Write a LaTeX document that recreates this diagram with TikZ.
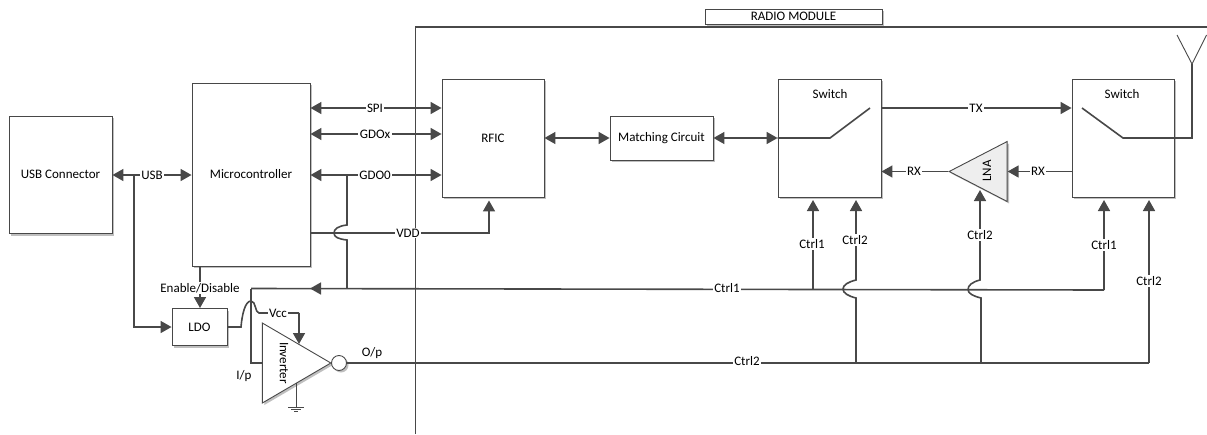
\documentclass[tikz,border=0pt]{standalone}
\usepackage{fontspec}
\usetikzlibrary{arrows.meta, positioning, shapes.geometric, shadows}
\setmainfont{Carlito}
\definecolor{WireGray}{RGB}{72, 72, 72}
\definecolor{LnaFill}{RGB}{238, 238, 238}

\begin{document}
\begin{tikzpicture}[
    x=1pt, y=-1pt,
    font=\fontsize{13}{15}\selectfont,
    softshadow/.style={drop shadow={shadow xshift=2pt, shadow yshift=-2pt, opacity=0.25, fill=black}},
    block/.style={rectangle, draw=WireGray, line width=0.9pt, fill=white, inner sep=0pt, softshadow},
    wire/.style={draw=WireGray, line width=1.6pt},
    feed/.style={wire, -{Triangle[length=11pt, width=12pt]}},
    both/.style={wire, {Triangle[length=11pt, width=12pt]}-{Triangle[length=11pt, width=12pt]}},
    fine/.style={draw=WireGray, line width=0.9pt},
    sig/.style={fill=white, inner xsep=1.5pt, inner ysep=1pt},
    tag/.style={inner sep=0pt}
]
\useasboundingbox (0,0) rectangle (1207,434);

% Radio module frame
\coordinate (frametop) at (415.5,27);
\coordinate (framebottom) at (415.5,434);
\coordinate (frameright) at (1207,27);
\draw[wire] (framebottom) -- (frametop) -- (frameright);
\node[block, minimum width=177pt, minimum height=15pt] (radio) at (793.5,16.5) {RADIO MODULE};

% Blocks
\node[block, minimum width=103pt, minimum height=117.5pt] (usb) at (60.5,174.75) {USB Connector};
\node[block, minimum width=118pt, minimum height=183pt] (mcu) at (251,174.5) {Microcontroller};
\node[block, minimum width=55pt, minimum height=37pt] (ldo) at (199.5,327) {LDO};
\node[block, minimum width=102pt, minimum height=118pt] (rfic) at (493,138) {RFIC};
\node[block, minimum width=103pt, minimum height=44pt] (matching) at (661.5,138) {Matching Circuit};
\node[block, minimum width=103pt, minimum height=118pt] (switcha) at (829.5,138) {};
\node[block, minimum width=102pt, minimum height=118pt] (switchb) at (1123,138) {};
\node[tag] (switchatext) at (830,94) {Switch};
\node[tag] (switchbtext) at (1122,94) {Switch};

% Triangles
\node[isosceles triangle, isosceles triangle stretches, shape border rotate=180, anchor=apex, draw=WireGray, line width=0.9pt,
    fill=LnaFill, inner sep=0pt, minimum width=60pt, minimum height=58pt, softshadow] (lna) at (948,171.5) {};
\node[tag, rotate=90] (lnatext) at (987,171) {LNA};
\node[isosceles triangle, isosceles triangle stretches, anchor=apex, draw=WireGray, line width=0.9pt,
    fill=white, inner sep=0pt, minimum width=80pt, minimum height=68.5pt, softshadow] (inverter) at (332,363) {};
\node[tag, rotate=-90] (invertertext) at (284,363) {Inverter};
\node[circle, draw=WireGray, line width=0.9pt, fill=white, inner sep=0pt, minimum size=15pt, softshadow] (bubble) at (339,363) {};

% Left side links
\coordinate (usbtap) at (134,175);
\draw[both] (usb.east |- usbtap) -- (mcu.west |- usbtap);
\node[sig] (usbtext) at (152,175) {USB};
\draw[feed] (usbtap) |- (ldo.west);
\coordinate (enabletop) at (200,266);
\coordinate (enablebottom) at (200,308);
\draw[feed] (enabletop) -- (enablebottom);
\node[sig] (enabletext) at (200,288) {Enable/Disable};

% Microcontroller to RFIC
\coordinate (spirow) at (0,108);
\coordinate (gdoxrow) at (0,134);
\coordinate (gdozrow) at (0,175);
\draw[both] (mcu.east |- spirow) -- (rfic.west |- spirow);
\draw[both] (mcu.east |- gdoxrow) -- (rfic.west |- gdoxrow);
\draw[both] (mcu.east |- gdozrow) -- (rfic.west |- gdozrow);
\node[sig] (spitext) at (375,108) {SPI};
\node[sig] (gdoxtext) at (375,134) {GDOx};
\node[sig] (gdoztext) at (375,175) {GDO0};
\coordinate (vddcorner) at (489,233);
\draw[feed, shorten >=3pt] (mcu.east |- vddcorner) -- (vddcorner) -- (rfic.south -| vddcorner);
\node[sig] (vddtext) at (408,233) {VDD};

% GDO0 tap onto Ctrl1, hopping over VDD
\coordinate (gdotap) at (347,175);
\coordinate (gdodown) at (347,288.5);
\draw[wire] (gdotap) -- (347,225) .. controls +(-9,1) and +(0,-4) .. (334,233)
    .. controls +(0,4) and +(-9,-1) .. (347,240) -- (gdodown);

% RF path
\draw[both] (rfic) -- (matching);
\draw[both] (matching) -- (switcha.west);
\draw[wire] (switcha.west) -- (830,138) -- (870,108);
\draw[feed] (switcha.east |- 0,108) -- (switchb.west |- 0,108);
\node[sig] (txtext) at (976,108) {TX};
\coordinate (antenna) at (1192,64);
\draw[wire] (1082,108) -- (1123,138) -- (1192,138) -- (antenna);
\draw[fine] (1177,35) -- (antenna) -- (1206.5,35);
\draw[feed] (switchb.west |- lna.apex) -- (lna.lower side);
\draw[feed] (lna.apex) -- (switcha.east |- lna.apex);
\node[sig] (rxbtext) at (1038,171.5) {RX};
\node[sig] (rxatext) at (914,171.5) {RX};

% Ctrl1 bus
\coordinate (busturn) at (251,288.5);
\coordinate (busend) at (1104,290);
\coordinate (ctrlone) at (813,288.5);
\draw[wire] (busend) -- (busturn);
\draw[feed] (gdodown) -- (310,288.5);
\node[sig] (busonetext) at (727,288.5) {Ctrl1};
\draw[wire] (busturn) |- (inverter.lower side);
\draw[feed] (ctrlone) -- (813,200);
\node[sig] (ctrlatext) at (812,244) {Ctrl1};
\draw[feed] (busend) -- (1104,200);
\node[sig] (ctrlctext) at (1104,245) {Ctrl1};

% Ctrl2 bus
\coordinate (bustwoend) at (1149,363);
\draw[wire] (bubble.east) -- (bustwoend);
\node[sig] (bustwotext) at (747,361.5) {Ctrl2};
\draw[feed] (bustwoend) -- (1149,200);
\node[sig] (ctrldtext) at (1149,281) {Ctrl2};
\draw[feed] (856,363) -- (856,298) .. controls +(-8,-2) and +(0,4) .. (843,289)
    .. controls +(0,-4) and +(-8,2) .. (856,280) -- (856,200);
\node[sig] (ctrlbtext) at (855,240) {Ctrl2};
\draw[feed] (981,363) -- (981,298) .. controls +(-8,-2) and +(0,4) .. (968,289.5)
    .. controls +(0,-4) and +(-8,2) .. (980,280) -- (980,190);
\node[sig] (lnactrltext) at (980,235) {Ctrl2};

% LDO output to inverter supply
\coordinate (vcccorner) at (299,313);
\draw[wire] (ldo.east) -- (241,327) .. controls +(1,-12) and +(-6,0) .. (251,301)
    .. controls +(5,0) and +(-4,0) .. (259,313) -- (vcccorner);
\draw[feed] (vcccorner) -- (299,344);
\node[sig] (vcctext) at (278,313) {Vcc};

% Ground
\coordinate (gndtop) at (296,383);
\coordinate (gndbottom) at (296,407);
\draw[fine] (gndtop) -- (gndbottom);
\draw[fine] (288,407) -- (304,407);
\draw[fine] (291,409) -- (301,409);
\draw[fine] (294,411) -- (298,411);

% Port labels
\node[tag] (iptext) at (244,376) {I/p};
\node[tag] (optext) at (372,353) {O/p};

\end{tikzpicture}
\end{document}
